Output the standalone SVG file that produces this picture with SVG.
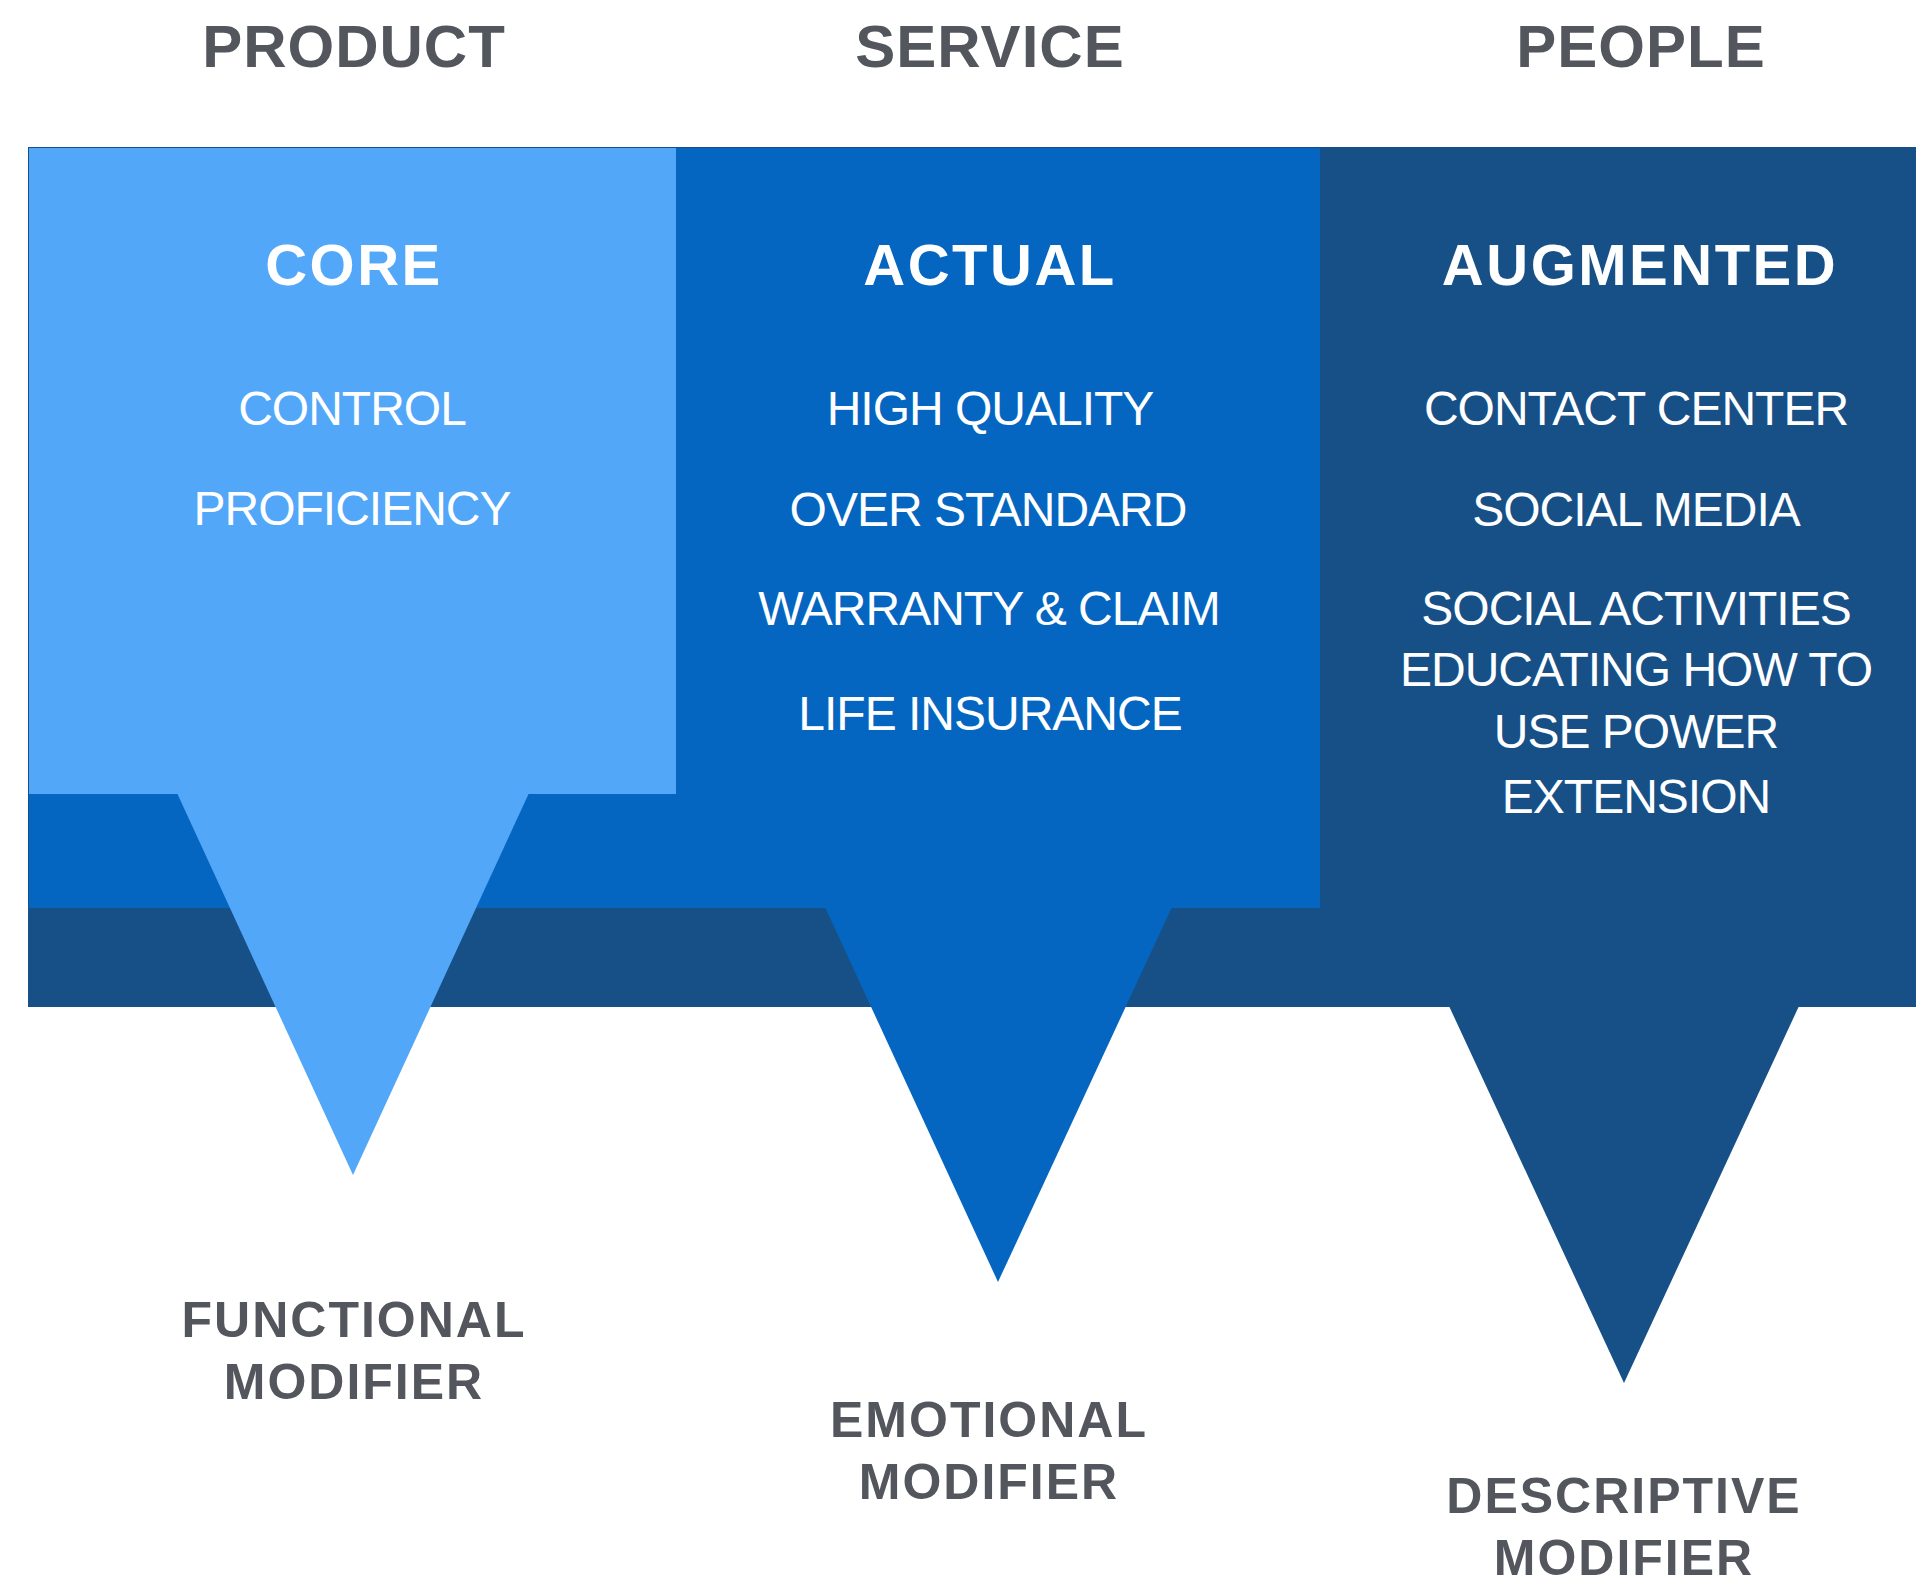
<svg xmlns="http://www.w3.org/2000/svg" width="1916" height="1586" viewBox="0 0 1916 1586">
<style>
.hd{font-family:"Liberation Sans",Arial,sans-serif;font-weight:bold;font-size:60px;letter-spacing:1px;fill:#53575D;text-anchor:middle}
.tier{font-family:"Liberation Sans",Arial,sans-serif;font-weight:bold;font-size:58px;letter-spacing:2.5px;fill:#FFFFFF;text-anchor:middle}
.item{font-family:"Liberation Sans",Arial,sans-serif;font-size:48px;letter-spacing:-1px;fill:#FFFFFF;text-anchor:middle}
.mod{font-family:"Liberation Sans",Arial,sans-serif;font-weight:bold;font-size:50px;letter-spacing:2px;fill:#53575D;text-anchor:middle}
.dark{fill:#175087}
.mid{fill:#0466C0}
.light{fill:#52A7F9}
</style>
<rect width="1916" height="1586" fill="#FFFFFF"/>
<g id="headings">
<text class="hd" x="354" y="67">PRODUCT</text>
<text class="hd" x="990" y="67">SERVICE</text>
<text class="hd" x="1641" y="67">PEOPLE</text>
</g>
<g id="augmented">
<rect class="dark" x="28" y="147" width="1888" height="860"/>
<polygon class="dark" points="1449,1006 1799,1006 1624,1383"/>
</g>
<g id="actual">
<rect class="mid" x="29" y="148" width="1291" height="760"/>
<polygon class="mid" points="825,907 1172,907 998,1282"/>
</g>
<g id="core">
<rect class="light" x="29" y="148" width="647" height="646"/>
<polygon class="light" points="177,793 529,793 353,1175"/>
</g>
<g id="core-text">
<text class="tier" x="354" y="285">CORE</text>
<text class="item" x="352" y="425">CONTROL</text>
<text class="item" x="352" y="525">PROFICIENCY</text>
</g>
<g id="actual-text">
<text class="tier" x="990" y="285">ACTUAL</text>
<text class="item" x="990" y="425">HIGH QUALITY</text>
<text class="item" x="988" y="526">OVER STANDARD</text>
<text class="item" x="989" y="625">WARRANTY &amp; CLAIM</text>
<text class="item" x="990" y="730">LIFE INSURANCE</text>
</g>
<g id="augmented-text">
<text class="tier" x="1640" y="285">AUGMENTED</text>
<text class="item" x="1636" y="425">CONTACT CENTER</text>
<text class="item" x="1636" y="526">SOCIAL MEDIA</text>
<text class="item" x="1636" y="625">SOCIAL ACTIVITIES</text>
<text class="item" x="1636" y="686">EDUCATING HOW TO</text>
<text class="item" x="1636" y="748">USE POWER</text>
<text class="item" x="1636" y="813">EXTENSION</text>
</g>
<g id="modifiers">
<text class="mod" x="354" y="1337">FUNCTIONAL</text>
<text class="mod" x="354" y="1399">MODIFIER</text>
<text class="mod" x="989" y="1437">EMOTIONAL</text>
<text class="mod" x="989" y="1499">MODIFIER</text>
<text class="mod" x="1624" y="1513">DESCRIPTIVE</text>
<text class="mod" x="1624" y="1575">MODIFIER</text>
</g>
</svg>
